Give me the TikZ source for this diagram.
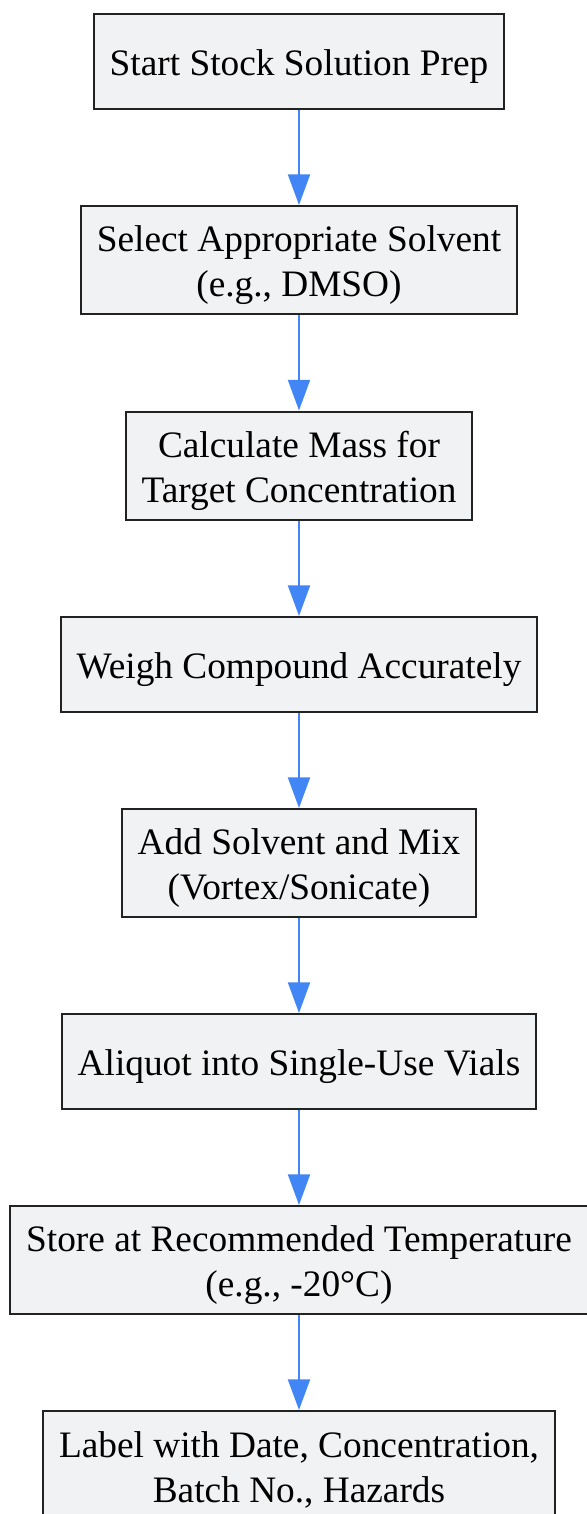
\documentclass[tikz,border=0pt]{standalone}
\usepackage{fontspec}
\setmainfont{Liberation Serif}
\usetikzlibrary{arrows.meta}

\definecolor{boxfill}{RGB}{241,242,244}
\definecolor{boxline}{RGB}{34,34,34}
\definecolor{flowblue}{RGB}{66,133,244}

\newcommand{\tstrut}{\rule{0pt}{27.5pt}}

\tikzset{
  stepbox/.style={draw=boxline, line width=1.5pt, fill=boxfill, align=center,
    inner xsep=12pt, inner ysep=0pt, minimum height=71.25pt,
    font=\fontsize{28}{33.75}\selectfont},
  stepboxtwo/.style={stepbox, minimum height=81pt},
  flowarrow/.style={draw=flowblue, line width=1.5pt,
    -{Triangle[width=16.5pt,length=23pt]}}
}

\begin{document}
\begin{tikzpicture}[x=0.75pt,y=0.75pt,yscale=-1,xscale=1]
%set diagram frame: width 586, height 1514
\useasboundingbox (0,0) rectangle (586,1514);

%Box [id:start]
\node [stepbox] (start) at (299,61.5) {\tstrut Start Stock Solution Prep};
%Box [id:solvent]
\node [stepboxtwo] (solvent) at (299,260) {\tstrut Select Appropriate Solvent\\(e.g., DMSO)};
%Box [id:calc]
\node [stepboxtwo] (calc) at (299,465.5) {\tstrut Calculate Mass for\\Target Concentration};
%Box [id:weigh]
\node [stepbox] (weigh) at (299,664.5) {\tstrut Weigh Compound Accurately};
%Box [id:mix]
\node [stepboxtwo] (mix) at (299,863) {\tstrut Add Solvent and Mix\\(Vortex/Sonicate)};
%Box [id:aliquot]
\node [stepbox] (aliquot) at (299,1061.5) {\tstrut Aliquot into Single-Use Vials};
%Box [id:store]
\node [stepboxtwo] (store) at (299,1260) {\tstrut Store at Recommended Temperature\\(e.g., -20°C)};
%Box [id:label]
\node [stepboxtwo] (label) at (299,1465) {\tstrut Label with Date, Concentration,\\Batch No., Hazards};

%Arrows
\draw [flowarrow] (start) -- (solvent);
\draw [flowarrow] (solvent) -- (calc);
\draw [flowarrow] (calc) -- (weigh);
\draw [flowarrow] (weigh) -- (mix);
\draw [flowarrow] (mix) -- (aliquot);
\draw [flowarrow] (aliquot) -- (store);
\draw [flowarrow] (store) -- (label);

\end{tikzpicture}
\end{document}
